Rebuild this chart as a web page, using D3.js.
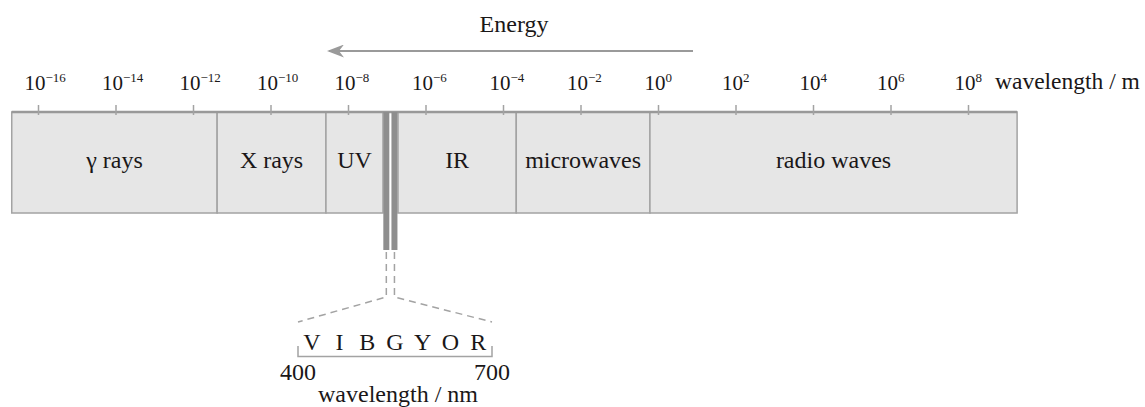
<!DOCTYPE html>
<html>
<head>
<meta charset="utf-8">
<script src="https://cdn.jsdelivr.net/npm/d3@7"></script>
<style>
  body { margin: 0; background: #fff; }
  text { font-family: "Liberation Serif", "Times New Roman", serif; fill: #1a1718; }
</style>
</head>
<body>
<svg id="chart"></svg>
<script>
// wavelength in metres
var tickExponents = [-16, -14, -12, -10, -8, -6, -4, -2, 0, 2, 4, 6, 8];
var bandNames = ["γ rays", "X rays", "UV", "IR", "microwaves", "radio waves"];
var bandFrom = [2.1e-17, 4.2e-12, 2.7e-9, 1.95e-7, 2.2e-4, 0.62];
var bandTo = [4.2e-12, 2.7e-9, 8.0e-8, 2.2e-4, 0.62, 1.85e9];
var visibleBars = [9.75e-8, 1.58e-7];
var spectrumLetters = ["V", "I", "B", "G", "Y", "O", "R"];
var nmRange = [400, 700];

var width = 1145,
    height = 407;

var svg = d3.select("#chart")
    .attr("width", width)
    .attr("height", height);

var x = d3.scaleLog().domain([1e-16, 1e8]).range([38, 968]);
var nm = d3.scaleLinear().domain(nmRange).range([298, 492]);

var barTop = 112,
    barBottom = 213,
    grey = "#a3a3a3";

// energy arrow, pointing to shorter wavelengths
svg.append("defs").append("marker")
    .attr("id", "head")
    .attr("viewBox", "0 0 17 13")
    .attr("refX", 15)
    .attr("refY", 6.5)
    .attr("markerWidth", 17)
    .attr("markerHeight", 13)
    .attr("markerUnits", "userSpaceOnUse")
    .attr("orient", "auto")
    .append("path")
    .attr("d", "M17,6.5 L0,0 L5,6.5 L0,13 Z")
    .attr("fill", "#9a9a9a");

svg.append("line")
    .attr("x1", x(1e0) + 35).attr("x2", x(1e-8) - 19)
    .attr("y1", 51).attr("y2", 51)
    .attr("stroke", "#9a9a9a")
    .attr("stroke-width", 2)
    .attr("marker-end", "url(#head)");

svg.append("text")
    .attr("x", 514).attr("y", 32)
    .attr("text-anchor", "middle")
    .style("font-size", "24px")
    .text("Energy");

// bands
var bands = svg.append("g");
bands.selectAll("rect")
    .data(d3.zip(bandFrom, bandTo))
    .enter()
    .append("rect")
    .attr("x", function(d) { return x(d[0]); })
    .attr("y", barTop)
    .attr("width", function(d) { return x(d[1]) - x(d[0]); })
    .attr("height", barBottom - barTop)
    .attr("fill", "#e6e6e6")
    .attr("stroke", grey)
    .attr("stroke-width", 1.5);

svg.append("line")
    .attr("x1", x(bandFrom[0])).attr("x2", x(bandTo[bandTo.length - 1]))
    .attr("y1", barTop).attr("y2", barTop)
    .attr("stroke", "#999")
    .attr("stroke-width", 2.5);

bands.selectAll("text")
    .data(d3.zip(bandNames, bandFrom, bandTo))
    .enter()
    .append("text")
    .attr("x", function(d) { return (x(d[1]) + x(d[2])) / 2; })
    .attr("y", 168)
    .attr("text-anchor", "middle")
    .style("font-size", "24px")
    .text(function(d) { return d[0]; });

// axis
var axis = d3.axisTop(x)
    .tickValues(tickExponents.map(function(e) { return Math.pow(10, e); }))
    .tickSize(10)
    .tickFormat("");

var gAxis = svg.append("g")
    .attr("transform", "translate(0," + (barTop + 3) + ")")
    .call(axis);
gAxis.select(".domain").remove();
gAxis.selectAll(".tick line").attr("stroke", grey).attr("stroke-width", 1.5);

var labels = svg.append("g").selectAll("text")
    .data(tickExponents)
    .enter()
    .append("text")
    .attr("x", function(d) { return x(Math.pow(10, d)) - 13.5; })
    .attr("y", 90)
    .style("font-size", "21px");
labels.append("tspan").text("10");
labels.append("tspan")
    .attr("dy", -8)
    .style("font-size", "13px")
    .text(function(d) { return d < 0 ? "\u2212" + (-d) : d; });

svg.append("text")
    .attr("x", 995).attr("y", 89)
    .style("font-size", "23.5px")
    .text("wavelength / m");

// visible light
svg.append("g").selectAll("rect")
    .data(visibleBars)
    .enter()
    .append("rect")
    .attr("x", function(d) { return x(d) - 3; })
    .attr("y", barTop)
    .attr("width", 6)
    .attr("height", 250 - barTop)
    .attr("fill", "#8e8e8e");

var dashes = svg.append("g")
    .attr("fill", "none")
    .attr("stroke", grey)
    .attr("stroke-width", 1.5)
    .attr("stroke-dasharray", "7,5");

dashes.selectAll("path")
    .data(d3.zip(visibleBars, nmRange))
    .enter()
    .append("path")
    .attr("d", function(d) {
        return d3.line()([[x(d[0]), 252], [x(d[0]), 297], [nm(d[1]), 322]]);
    });

// bracket 400-700 nm
svg.append("path")
    .attr("d", d3.line()([[nm(400), 346], [nm(400), 356.5], [nm(700), 356.5], [nm(700), 346]]))
    .attr("fill", "none")
    .attr("stroke", grey)
    .attr("stroke-width", 1.5);

var letterX = d3.scalePoint().domain(spectrumLetters).range(nm.range()).padding(0.5);
svg.append("g").selectAll("text")
    .data(spectrumLetters)
    .enter()
    .append("text")
    .attr("x", function(d) { return letterX(d); })
    .attr("y", 350)
    .attr("text-anchor", "middle")
    .style("font-size", "24px")
    .text(function(d) { return d; });

svg.append("g").selectAll("text")
    .data(nmRange)
    .enter()
    .append("text")
    .attr("x", function(d) { return nm(d); })
    .attr("y", 380)
    .attr("text-anchor", "middle")
    .style("font-size", "24px")
    .text(function(d) { return d; });

svg.append("text")
    .attr("x", 398).attr("y", 402)
    .attr("text-anchor", "middle")
    .style("font-size", "24px")
    .text("wavelength / nm");
</script>
</body>
</html>
